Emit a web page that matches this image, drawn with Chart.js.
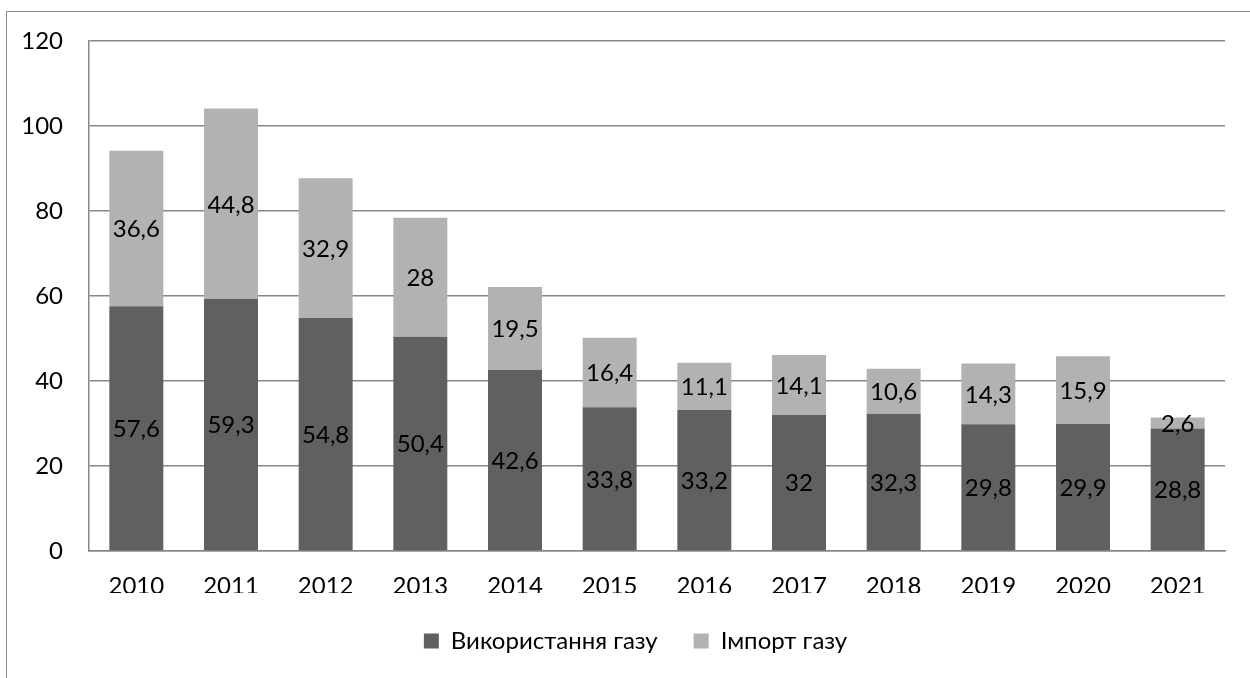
<!DOCTYPE html>
<html>
<head>
<meta charset="utf-8">
<script src="https://cdn.jsdelivr.net/npm/chart.js@4/dist/chart.umd.min.js"></script>
<style>
  html, body { margin: 0; padding: 0; background: #fff; }
  #wrap { position: relative; width: 1250px; height: 678px; overflow: hidden; }
  #frame { position: absolute; left: 6px; top: 11px; width: 1400px; height: 800px;
           border-left: 1.5px solid #8a8a8a; border-top: 1.5px solid #8a8a8a; }
  canvas { position: absolute; left: 0; top: 0; }
</style>
</head>
<body>
<div id="wrap">
  <div id="frame"></div>
  <canvas id="c" width="1250" height="678"></canvas>
</div>
<script>
const years = ['2010','2011','2012','2013','2014','2015','2016','2017','2018','2019','2020','2021'];
const usageLabel = 'Використання газу';
const importLabel = 'Імпорт газу';
const usage = [57.6, 59.3, 54.8, 50.4, 42.6, 33.8, 33.2, 32, 32.3, 29.8, 29.9, 28.8];
const imports = [36.6, 44.8, 32.9, 28, 19.5, 16.4, 11.1, 14.1, 10.6, 14.3, 15.9, 2.6];
const yTicks = [0, 20, 40, 60, 80, 100, 120];

const FONT = 'Lato, "Open Sans", sans-serif';
const FS = 24;

const labelPlugin = {
  id: 'segLabels',
  afterLayout(chart) {
    if (chart.legend) { chart.legend.left += 23; chart.legend.right += 23; }
  },
  afterDatasetsDraw(chart) {
    const ctx = chart.ctx;
    ctx.save();
    ctx.font = FS + 'px ' + FONT;
    ctx.fillStyle = '#000';
    ctx.textAlign = 'center';
    ctx.textBaseline = 'middle';
    chart.data.datasets.forEach((ds, di) => {
      const meta = chart.getDatasetMeta(di);
      meta.data.forEach((el, i) => {
        const v = ds.data[i];
        const txt = String(v).replace('.', ',');
        ctx.fillText(txt, el.x, (el.y + el.base) / 2 + 1);
      });
    });
    ctx.restore();
  }
};

new Chart(document.getElementById('c'), {
  type: 'bar',
  data: {
    labels: years,
    datasets: [
      { label: usageLabel, data: usage, backgroundColor: '#606060', borderWidth: 0,
        barPercentage: 0.57, categoryPercentage: 1.0 },
      { label: importLabel, data: imports, backgroundColor: '#b2b2b2', borderWidth: 0,
        barPercentage: 0.57, categoryPercentage: 1.0 }
    ]
  },
  options: {
    responsive: false,
    animation: false,
    devicePixelRatio: 1,
    layout: { padding: { left: 0, top: 41, right: 25, bottom: 15 } },
    plugins: {
      tooltip: { enabled: false },
      legend: {
        position: 'bottom',
        labels: {
          boxWidth: 15, boxHeight: 15, padding: 36,
          color: '#000',
          font: { family: FONT, size: FS }
        }
      }
    },
    scales: {
      x: {
        stacked: true,
        grid: { display: false, drawTicks: false },
        border: { display: true, color: '#878787', width: 1.5 },
        ticks: { color: '#000', font: { family: FONT, size: FS }, padding: 21, maxRotation: 0 },
        afterFit(s) { s.height = 42; }
      },
      y: {
        stacked: true,
        min: 0, max: 120,
        afterBuildTicks(s) { s.ticks = yTicks.map(v => ({ value: v })); },
        grid: { color: '#878787', lineWidth: 1.5, drawTicks: false },
        border: { display: true, color: '#878787', width: 1.5 },
        ticks: { color: '#000', font: { family: FONT, size: FS }, padding: 26 },
        afterFit(s) { s.width = 89; }
      }
    }
  },
  plugins: [labelPlugin]
});
</script>
</body>
</html>
